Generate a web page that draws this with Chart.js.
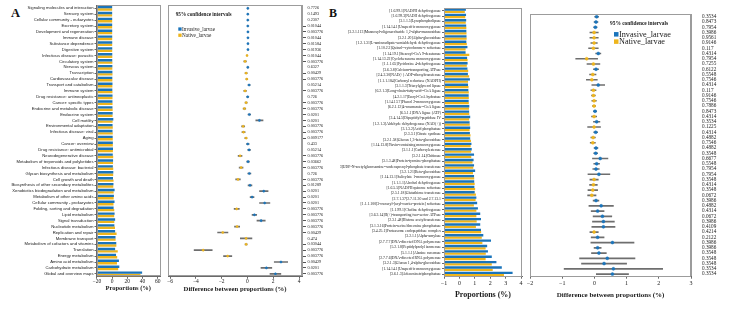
<!DOCTYPE html>
<html><head><meta charset="utf-8">
<script src="https://cdn.jsdelivr.net/npm/chart.js@4.4.0/dist/chart.umd.min.js"></script>
<style>
html,body{margin:0;padding:0;background:#fff;width:736px;height:309px;overflow:hidden;position:relative}
canvas{position:absolute;top:0}
.pl{position:absolute;font-family:"Liberation Serif",serif;font-weight:bold;line-height:1;color:#111}
</style></head><body>
<div class="pl" style="left:11px;top:7px;font-size:12.5px">A</div>
<div class="pl" style="left:329px;top:6.5px;font-size:12px">B</div>
<canvas id="barA" width="162" height="309" style="left:0px"></canvas>
<canvas id="ciA" width="175" height="309" style="left:160px"></canvas>
<canvas id="barB" width="184" height="309" style="left:340px"></canvas>
<canvas id="ciB" width="212" height="309" style="left:524px"></canvas>
<script>
// ---------------- DATA ----------------
const SERIES = ['Invasive_larvae', 'Native_larvae'];
const LEGEND_TITLE = '95% confidence intervals';
const X_TITLE_BAR = 'Proportions (%)';
const X_TITLE_CI = 'Difference between proportions (%)';

const catsA = ['Signaling molecules and interaction','Sensory system','Cellular community - eukaryotes','Excretory system','Development and regeneration','Immune disease','Substance dependence','Digestive system','Infectious disease: parasitic','Circulatory system','Nervous system','Transcription','Cardiovascular disease','Transport and catabolism','Immune system','Drug resistance: antineoplastic','Cancer: specific types','Endocrine and metabolic disease','Endocrine system','Cell motility','Environmental adaptation','Infectious disease: viral','Aging','Cancer: overview','Drug resistance: antimicrobial','Neurodegenerative disease','Metabolism of terpenoids and polyketides','Infectious disease: bacterial','Glycan biosynthesis and metabolism','Cell growth and death','Biosynthesis of other secondary metabolites','Xenobiotics biodegradation and metabolism','Metabolism of other amino acids','Cellular community - prokaryotes','Folding, sorting and degradation','Lipid metabolism','Signal transduction','Nucleotide metabolism','Replication and repair','Membrane transport','Metabolism of cofactors and vitamins','Translation','Energy metabolism','Amino acid metabolism','Carbohydrate metabolism','Global and overview maps'];
const blueA = [0.10,0.11,0.14,0.13,0.16,0.17,0.19,0.21,0.25,0.22,0.36,0.40,0.31,0.52,0.31,0.55,0.46,0.50,0.76,1.62,0.61,0.56,0.80,1.00,1.20,0.90,1.30,1.00,1.60,1.20,1.80,3.30,2.40,3.20,2.00,3.30,4.00,3.00,4.00,4.50,5.50,4.00,5.20,9.00,9.50,39.50];
const yellowA = [0.07,0.08,0.11,0.10,0.12,0.13,0.15,0.17,0.28,0.40,0.33,0.50,0.36,0.39,0.49,0.53,0.56,0.73,0.61,0.69,0.94,0.86,0.90,0.97,1.07,1.47,1.25,1.49,1.45,1.93,1.60,2.03,2.04,1.86,2.83,2.76,2.94,3.80,5.91,4.60,5.60,7.43,6.73,6.40,8.03,37.33];
const diffA = [0.03,0.03,0.03,0.03,0.04,0.04,0.04,0.04,-0.03,-0.18,0.03,-0.10,-0.05,0.13,-0.18,0.02,-0.10,-0.23,0.15,0.93,-0.33,-0.30,-0.10,0.03,0.13,-0.57,0.05,-0.49,0.15,-0.73,0.20,1.27,0.36,1.34,-0.83,0.54,1.06,-0.80,-1.91,-0.10,-0.10,-3.43,-1.53,2.60,1.47,2.17];
const ciA = [0.04,0.04,0.04,0.04,0.04,0.04,0.04,0.04,0.05,0.10,0.05,0.08,0.06,0.08,0.10,0.06,0.08,0.10,0.10,0.28,0.12,0.12,0.10,0.10,0.10,0.15,0.10,0.15,0.12,0.18,0.15,0.33,0.15,0.40,0.20,0.18,0.32,0.20,0.40,0.45,0.08,0.70,0.32,0.52,0.42,0.42];
const pA = ['0.7726','0.1493','0.2307','0.01044','0.003776','0.01044','0.01584','0.01936','0.01044','0.003776','0.6327','0.00429','0.003776','0.05214','0.003776','0.726','0.003776','0.003776','0.0201','0.0201','0.003776','0.003776','0.009177','0.433','0.05214','0.003776','0.03662','0.003776','0.726','0.003776','0.01289','0.0201','0.0201','0.0201','0.003776','0.003776','0.003776','0.003776','0.00429','0.474','0.03044','0.003776','0.003776','0.00429','0.0201','0.003776'];
const barTicksA = [-20, 0, 20, 40, 60];
const ciTicksA = [-6, -4, -2, 0, 2, 4];

const catsB = ['[1.6.99.1]NADPH dehydrogenase','[1.6.99.3]NADH dehydrogenase','[3.1.1.5]Lysophospholipase','[1.14.14.1]Unspecific monooxygenase','[3.2.1.113]Mannosyl-oligosaccharide 1,2-alpha-mannosidase','[3.2.1.20]Alpha-glucosidase','[1.2.1.31]L-aminoadipate-semialdehyde dehydrogenase','[1.10.2.2]Quinol--cytochrome-c reductase','[1.14.19.1]Stearoyl-CoA 9-desaturase','[1.14.13.22]Cyclohexanone monooxygenase','[1.1.1.65]Pyridoxine 4-dehydrogenase','[3.6.3.8]Calcium-transporting ATPase','[2.4.2.30]NAD(+) ADP-ribosyltransferase','[1.1.1.184]Carbonyl reductase (NADPH)','[3.1.1.3]Triacylglycerol lipase','[6.2.1.3]Long-chain-fatty-acid--CoA ligase','[4.2.1.17]Enoyl-CoA hydratase','[1.14.13.7]Phenol 2-monooxygenase','[6.2.1.12]4-coumarate--CoA ligase','[6.5.1.1]DNA ligase (ATP)','[3.4.14.5]Dipeptidyl-peptidase IV','[1.2.1.3]Aldehyde dehydrogenase (NAD(+))','[3.1.3.2]Acid phosphatase','[2.3.3.1]Citrate synthase','[3.2.1.58]Glucan 1,3-beta-glucosidase','[1.14.13.8]Flavin-containing monooxygenase','[3.1.1.1]Carboxylesterase','[3.2.1.14]Chitinase','[3.1.3.48]Protein-tyrosine-phosphatase','[2.7.8.33]UDP-N-acetylglucosamine--undecaprenyl-phosphate transferase','[3.2.1.21]Beta-glucosidase','[1.14.13.1]Salicylate 1-monooxygenase','[1.1.1.1]Alcohol dehydrogenase','[1.6.5.5]NADPH:quinone reductase','[2.5.1.18]Glutathione transferase','[2.7.1.37]2.7.11.30 and 2.7.13.1','[1.1.1.100]3-oxoacyl-[acyl-carrier-protein] reductase','[1.1.99.1]Choline dehydrogenase','[3.6.3.14]H(+)-transporting two-sector ATPase','[2.3.1.48]Histone acetyltransferase','[3.1.3.16]Protein-serine/threonine phosphatase','[3.4.25.1]Proteasome endopeptidase complex','[3.2.1.1]Alpha-amylase','[2.7.7.7]DNA-directed DNA polymerase','[5.2.1.8]Peptidylprolyl isomerase','[5.1.1.1]Alanine racemase','[2.7.7.6]DNA-directed RNA polymerase','[3.2.1.3]Glucan 1,4-alpha-glucosidase','[1.14.14.1]Unspecific monooxygenase','[3.6.1.3]Adenosinetriphosphatase'];
const blueB = [0.42,0.43,0.44,0.44,0.45,0.46,0.45,0.52,0.40,0.50,0.53,0.52,0.55,0.68,0.56,0.58,0.60,0.60,0.64,0.63,0.70,0.66,0.70,0.68,0.70,0.78,0.80,0.95,0.92,0.95,1.02,0.95,0.96,0.97,0.99,1.10,1.15,1.20,1.35,1.40,1.35,1.40,1.55,2.05,1.80,1.85,2.10,2.40,2.75,3.45];
const yellowB = [0.35,0.38,0.41,0.45,0.46,0.47,0.48,0.40,0.64,0.53,0.48,0.57,0.63,0.56,0.59,0.61,0.61,0.61,0.62,0.64,0.63,0.67,0.66,0.72,0.75,0.73,0.76,0.77,0.85,0.90,0.88,0.96,0.99,1.02,1.07,1.05,0.94,1.10,1.10,1.12,1.07,1.41,1.45,1.49,1.70,1.71,1.70,2.10,2.16,2.89];
const diffB = [0.07,0.05,0.03,-0.01,-0.01,-0.01,-0.03,0.12,-0.24,-0.03,0.05,-0.05,-0.08,0.12,-0.03,-0.03,-0.01,-0.01,0.02,-0.01,0.07,-0.01,0.04,-0.04,-0.05,0.05,0.04,0.18,0.07,0.05,0.14,-0.01,-0.03,-0.05,-0.08,0.05,0.21,0.10,0.25,0.28,0.28,-0.01,0.10,0.56,0.10,0.14,0.40,0.30,0.59,0.56];
const ciB = [0.06,0.06,0.05,0.13,0.13,0.10,0.15,0.08,0.34,0.20,0.08,0.10,0.17,0.20,0.08,0.06,0.07,0.05,0.05,0.08,0.10,0.20,0.06,0.07,0.08,0.06,0.06,0.24,0.09,0.10,0.34,0.13,0.12,0.15,0.13,0.09,0.38,0.20,0.29,0.34,0.36,0.13,0.20,0.67,0.11,0.23,0.86,0.70,1.53,0.50];
const pB = ['0.3534','0.8473','0.7954','0.3986','0.9561','0.9146','0.117','0.4314','0.7954','0.7255','0.6122','0.5548','0.7546','0.4314','0.117','0.9146','0.7546','0.7886','0.8473','0.4314','0.3534','0.1225','0.4314','0.4882','0.7546','0.4882','0.3548','0.6677','0.5548','0.7954','0.7954','0.3548','0.4314','0.3548','0.0672','0.3986','0.4882','0.4314','0.0672','0.3986','0.4109','0.4214','0.2122','0.3986','0.3986','0.3548','0.3548','0.3548','0.3534','0.3534'];
const barTicksB = [-1, 0, 1, 2, 3, 4];
const ciTicksB = [-2, -1, 0, 1, 2, 3];

// ---------------- STYLE ----------------
const BLUE = '#1a74bb', YELLOW = '#eeb51c', CI_COL = '#6e6e6e';
const FRAME = '#9c9c9c', AXIS = '#6a6a6a', TXT = '#1a1a1a';
const SERIF = '"Liberation Serif", "Times New Roman", serif';
const SANS = '"Liberation Sans", Arial, sans-serif';
const fmt = v => (v < 0 ? '\u2212' + Math.abs(v) : String(v));

const frame = {
  id: 'frame',
  afterDraw(chart) {
    const {ctx, chartArea: a} = chart;
    ctx.save(); ctx.strokeStyle = FRAME; ctx.lineWidth = 1;
    ctx.strokeRect(Math.round(a.left) + 0.5, Math.round(a.top) + 0.5, Math.round(a.right - a.left) - 1, Math.round(a.bottom - a.top) - 1);
    ctx.restore();
  }
};
const ciLegend = {
  id: 'ciLegend',
  afterDraw(chart, args, o) {
    const {ctx, chartArea: a} = chart;
    const x = a.left + o.dx, y = a.top + o.dy;
    ctx.save();
    ctx.textBaseline = 'middle'; ctx.textAlign = 'left';
    ctx.fillStyle = TXT;
    ctx.font = 'bold ' + o.titleSize + 'px ' + SERIF;
    ctx.fillText(LEGEND_TITLE, x, y);
    [BLUE, YELLOW].forEach((c, i) => {
      const yy = y + o.first + i * o.step;
      ctx.fillStyle = c;
      ctx.fillRect(x + o.boxDx, yy - o.box / 2, o.box, o.box);
      ctx.fillStyle = TXT;
      ctx.font = o.itemSize + 'px ' + SERIF;
      ctx.fillText(SERIES[i], x + o.boxDx + o.box + 0.5, yy + 0.3);
    });
    ctx.restore();
  }
};

function mkBar(id, o) {
  return new Chart(document.getElementById(id), {
    type: 'bar',
    data: {labels: o.cats, datasets: [
      {label: SERIES[0], data: o.blue, backgroundColor: BLUE, base: o.base, categoryPercentage: o.cp, barPercentage: 1},
      {label: SERIES[1], data: o.yellow, backgroundColor: YELLOW, base: o.base, categoryPercentage: o.cp, barPercentage: 1}
    ]},
    options: {
      indexAxis: 'y', responsive: false, animation: false, events: [], devicePixelRatio: 1,
      layout: {padding: o.pad},
      plugins: {legend: {display: false}, tooltip: {enabled: false}},
      scales: {
        y: {
          offset: true,
          afterFit: s => { s.width = o.yWidth; },
          ticks: {font: o.labelFont, color: TXT, padding: 1, autoSkip: false},
          grid: {drawOnChartArea: false, offset: false, tickLength: 2, color: AXIS},
          border: {color: AXIS}
        },
        x: {
          min: o.xMin, max: o.xMax,
          afterBuildTicks: s => { s.ticks = o.xTicks.map(v => ({value: v})); },
          afterFit: s => { s.height = o.xHeight; },
          ticks: {font: o.tickFont, color: TXT, padding: o.tickPad, callback: fmt, maxRotation: 0},
          grid: {drawOnChartArea: false, tickLength: 2, color: AXIS},
          border: {color: AXIS},
          title: {display: true, text: X_TITLE_BAR, font: o.titleFont, color: TXT, padding: 0}
        }
      }
    },
    plugins: [frame]
  });
}

function mkCI(id, o) {
  const n = o.cats.length;
  return new Chart(document.getElementById(id), {
    type: 'bar',
    data: {labels: o.cats, datasets: [
      {type: 'line', indexAxis: 'y', data: o.diff, showLine: false, pointRadius: o.r, pointHoverRadius: o.r,
       pointBackgroundColor: c => (c.raw >= 0 ? BLUE : YELLOW), pointBorderColor: c => (c.raw >= 0 ? BLUE : YELLOW),
       pointBorderWidth: 0.5, order: 0},
      {type: 'bar', indexAxis: 'y', data: o.diff.map((d, i) => [d - o.ci[i], d + o.ci[i]]),
       backgroundColor: CI_COL, barThickness: 1, order: 1}
    ]},
    options: {
      indexAxis: 'y', responsive: false, animation: false, events: [], devicePixelRatio: 1,
      layout: {padding: o.pad},
      plugins: {legend: {display: false}, tooltip: {enabled: false}, ciLegend: o.legend},
      scales: {
        y: {type: 'category', display: false, offset: true},
        y2: {
          type: 'category', labels: o.pvals, position: 'right', offset: true, min: 0, max: n - 1,
          afterFit: s => { s.width = o.pW; },
          ticks: {font: o.pFont, color: TXT, padding: o.pPad, autoSkip: false},
          grid: {drawOnChartArea: false, offset: false, drawTicks: o.pTicks, tickLength: o.pTickLen,
                 tickColor: c => (parseFloat(o.pvals[c.index]) < 0.05 ? '#555' : 'rgba(0,0,0,0)')},
          border: {color: FRAME}
        },
        x: {
          min: o.xMin, max: o.xMax,
          afterBuildTicks: s => { s.ticks = o.xTicks.map(v => ({value: v})); },
          afterFit: s => { s.height = o.xHeight; },
          ticks: {font: o.tickFont, color: TXT, padding: o.tickPad, callback: fmt, maxRotation: 0},
          grid: {drawOnChartArea: false, tickLength: 2, color: AXIS},
          border: {color: AXIS},
          title: {display: true, text: X_TITLE_CI, font: o.titleFont, color: TXT, padding: 0}
        }
      }
    },
    plugins: [frame, ciLegend]
  });
}

mkBar('barA', {
  cats: catsA, blue: blueA, yellow: yellowA, base: -20, cp: 0.82,
  xMin: -20.5, xMax: 63, xTicks: barTicksA,
  pad: {top: 5.35, right: 2, bottom: 16.8, left: 0}, yWidth: 96.5, xHeight: 15.45,
  labelFont: {family: SANS, size: 4.2}, tickFont: {family: SERIF, size: 5.5}, tickPad: 0,
  titleFont: {family: SERIF, size: 6.5, weight: 'bold'}
});
mkCI('ciA', {
  cats: catsA, diff: diffA, ci: ciA, pvals: pA, r: 1.1,
  xMin: -6.155, xMax: 4.23, xTicks: ciTicksA,
  pad: {top: 5.35, right: 0, bottom: 15.7, left: 8}, pW: 33, xHeight: 16.55,
  pFont: {family: SERIF, size: 4.2}, pPad: 1.5, pTicks: true, pTickLen: 4,
  tickFont: {family: SERIF, size: 5.5}, tickPad: 0,
  titleFont: {family: SERIF, size: 6.7, weight: 'bold'},
  legend: {dx: 7.7, dy: 9, titleSize: 5.2, itemSize: 5.2, box: 3.3, boxDx: 2.6, first: 14.7, step: 6.2}
});
mkBar('barB', {
  cats: catsB, blue: blueB, yellow: yellowB, base: -1, cp: 0.86,
  xMin: -1, xMax: 4.06, xTicks: barTicksB,
  pad: {top: 8, right: 2, bottom: 9.2, left: 0}, yWidth: 104, xHeight: 23.1,
  labelFont: {family: SERIF, size: 3.8}, tickFont: {family: SERIF, size: 6}, tickPad: 1,
  titleFont: {family: SERIF, size: 8, weight: 'bold'}
});
mkCI('ciB', {
  cats: catsB, diff: diffB, ci: ciB, pvals: pB, r: 1.5,
  xMin: -2, xMax: 3, xTicks: ciTicksB,
  pad: {top: 8, right: 0, bottom: 9.8, left: 6}, pW: 45, xHeight: 22.5,
  pFont: {family: SERIF, size: 5.2}, pPad: 11, pTicks: false, pTickLen: 0,
  tickFont: {family: SERIF, size: 6}, tickPad: 1,
  titleFont: {family: SERIF, size: 7, weight: 'bold'},
  legend: {dx: 80, dy: 9.3, titleSize: 5.4, itemSize: 8.2, box: 4.5, boxDx: 4, first: 10.9, step: 7.3}
});
</script>
</body></html>
